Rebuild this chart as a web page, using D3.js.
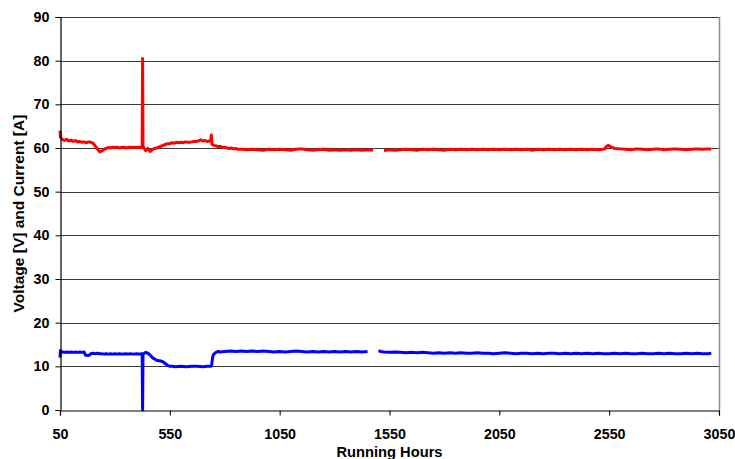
<!DOCTYPE html>
<html>
<head>
<meta charset="utf-8">
<script src="https://cdn.jsdelivr.net/npm/d3@7"></script>
<style>
  html, body { margin: 0; padding: 0; background: #fff; }
  svg { display: block; }
  text { font-family: "Liberation Sans", Arial, sans-serif; font-weight: bold; fill: #000; }
</style>
</head>
<body>
<svg id="chart" width="735" height="459"></svg>
<script>
// ---- Data ----
const xTicks = [50, 550, 1050, 1550, 2050, 2550, 3050];
const yTicks = [0, 10, 20, 30, 40, 50, 60, 70, 80, 90];
const xTitle = "Running Hours";
const yTitle = "Voltage [V] and Current [A]";

// Voltage (red)
const voltageHours = [
  50, 52, 60, 70, 80, 90, 100, 110, 120, 130, 140, 150, 160, 170, 180, 190, 200, 210, 220, 232, 245, 260, 270, 280, 290,
  300, 310, 320, 330, 340, 350, 360, 370, 380, 390, 400, 410, 420, 424, 426, 428, 432, 440, 450, 460, 470, 480, 490,
  500, 510, 520, 530, 540, 550, 560, 570, 580, 590, 600, 610, 620, 630, 640, 650, 660, 670, 680, 690, 700, 710, 720,
  730, 736, 739, 742, 750, 760, 770, 780, 790, 800, 810, 820, 830, 840, 850, 860, 880, 900,
  925, 950, 975, 1000, 1025, 1050, 1075, 1100, 1125, 1150, 1175, 1200, 1225, 1250, 1275, 1300, 1325, 1350, 1375, 1400, 1425, 1450,
  1475,
  1500, 1525, 1550, 1575, 1600, 1625, 1650, 1675, 1700, 1725, 1750, 1775, 1800, 1825, 1850, 1875, 1900, 1925, 1950, 1975,
  2000, 2025, 2050, 2075, 2100, 2125, 2150, 2175, 2200, 2225, 2250, 2275, 2300, 2325, 2350, 2375, 2400, 2425, 2450, 2475,
  2500, 2520, 2530, 2536, 2545, 2560, 2575, 2600, 2625, 2650, 2675, 2700, 2725, 2750, 2775, 2800, 2825, 2850, 2875, 2900,
  2925, 2950, 2975, 3000, 3015
];
const voltageValues = [
  64.0, 62.5, 62.0, 61.7, 62.0, 61.6, 61.8, 61.5, 61.7, 61.4, 61.5, 61.3, 61.4, 61.2, 61.4, 61.3, 61.1, 60.5, 59.8, 59.1, 59.5, 59.9, 60.1, 60.0, 60.2,
  60.1, 60.2, 60.0, 60.1, 60.2, 60.0, 60.1, 60.2, 60.1, 60.2, 60.1, 60.2, 60.1, 60.3, 80.5, 60.5, 60.0, 59.4, 59.9, 59.2, 59.6, 59.9, 60.0,
  60.2, 60.4, 60.6, 60.8, 61.0, 61.0, 61.2, 61.1, 61.3, 61.2, 61.3, 61.2, 61.4, 61.3, 61.3, 61.4, 61.5, 61.5, 61.6, 61.9, 61.6, 61.7, 61.5,
  61.6, 61.8, 63.0, 60.8, 60.6, 60.5, 60.3, 60.4, 60.1, 60.2, 60.0, 59.9, 60.0, 59.8, 59.9, 59.7, 59.7, 59.6, 59.7,
  59.6, 59.5, 59.7, 59.6, 59.7, 59.6, 59.5, 59.7, 59.8, 59.6, 59.5, 59.6, 59.7, 59.5, 59.6, 59.5, 59.6, 59.5, 59.6, 59.5, 59.6, 59.5,
  null,
  59.4, 59.6, 59.5, 59.6, 59.7, 59.6, 59.5, 59.7, 59.6, 59.7, 59.6, 59.5, 59.7, 59.6, 59.7, 59.6, 59.7, 59.6, 59.7, 59.6,
  59.7, 59.6, 59.7, 59.6, 59.7, 59.6, 59.7, 59.5, 59.7, 59.6, 59.7, 59.6, 59.7, 59.6, 59.7, 59.6, 59.7, 59.6, 59.7, 59.6,
  59.7, 59.8, 60.3, 60.6, 60.2, 59.9, 59.8, 59.7, 59.6, 59.8, 59.7, 59.6, 59.7, 59.8, 59.6, 59.7, 59.8, 59.7, 59.6, 59.7,
  59.8, 59.7, 59.8, 59.7, 59.8
];

// Current (blue)
const currentHours = [
  50, 52, 60, 70, 80, 90, 100, 110, 120, 130, 140, 150, 160, 165, 175, 185, 190, 200, 210, 220, 230, 240, 250, 260, 270, 280, 290,
  300, 310, 320, 330, 340, 350, 360, 370, 380, 390, 400, 410, 420, 424, 426, 428, 432, 440, 450, 460, 470, 480, 490,
  500, 510, 520, 530, 540, 550, 560, 575, 600, 625, 650, 675, 700, 720, 735, 740, 745, 750, 760, 770, 780, 800, 825, 850, 875, 900,
  925, 950, 975, 1000, 1025, 1050, 1075, 1100, 1125, 1150, 1175, 1200, 1225, 1250, 1275, 1300, 1325, 1350, 1375, 1400, 1425, 1450,
  1475,
  1500, 1510, 1525, 1550, 1575, 1600, 1625, 1650, 1675, 1700, 1725, 1750, 1775, 1800, 1825, 1850, 1875, 1900, 1925, 1950, 1975,
  2000, 2025, 2050, 2075, 2100, 2125, 2150, 2175, 2200, 2225, 2250, 2275, 2300, 2325, 2350, 2375, 2400, 2425, 2450, 2475,
  2500, 2525, 2550, 2575, 2600, 2625, 2650, 2675, 2700, 2725, 2750, 2775, 2800, 2825, 2850, 2875, 2900,
  2925, 2950, 2975, 3000, 3015
];
const currentValues = [
  12.0, 13.6, 13.3, 13.2, 13.3, 13.2, 13.3, 13.2, 13.3, 13.2, 13.3, 13.2, 13.3, 12.6, 12.5, 12.6, 12.9, 13.0, 12.9, 13.0, 12.9, 12.9, 12.8, 12.9, 12.8, 12.9, 12.8,
  12.9, 12.8, 12.9, 12.8, 12.8, 12.9, 12.8, 12.9, 12.8, 12.8, 12.9, 12.8, 12.9, 12.8, 0.0, 12.9, 12.9, 13.2, 13.0, 12.6, 12.0, 11.7, 11.4,
  11.3, 11.2, 11.0, 10.6, 10.2, 10.0, 10.0, 9.9, 10.0, 9.9, 10.0, 10.0, 9.9, 10.0, 10.0, 10.1, 12.2, 12.8, 13.2, 13.4, 13.3, 13.4, 13.5, 13.4, 13.5, 13.4,
  13.5, 13.4, 13.5, 13.4, 13.3, 13.4, 13.3, 13.4, 13.5, 13.4, 13.3, 13.4, 13.3, 13.4, 13.3, 13.4, 13.3, 13.4, 13.3, 13.4, 13.3, 13.4,
  null,
  13.6, 13.4, 13.3, 13.2, 13.3, 13.2, 13.1, 13.2, 13.1, 13.2, 13.1, 13.0, 13.1, 13.0, 13.1, 13.0, 13.1, 13.0, 13.0, 13.1, 13.0,
  13.0, 12.9, 13.0, 13.1, 13.0, 12.9, 13.0, 13.0, 12.9, 13.0, 12.9, 13.0, 13.0, 12.9, 13.0, 12.9, 13.0, 12.9, 13.0, 12.9,
  13.0, 12.9, 12.9, 13.0, 12.9, 13.0, 12.9, 12.9, 13.0, 12.9, 12.9, 13.0, 12.9, 13.0, 12.9, 12.9, 13.0,
  12.9, 13.0, 12.9, 12.9, 13.0
];

// ---- Layout ----
const svg = d3.select("#chart");
const plot = { left: 60, right: 719, top: 17, bottom: 410 };

const x = d3.scaleLinear().domain([50, 3050]).range([plot.left, plot.right]);
const y = d3.scaleLinear().domain([0, 90]).range([plot.bottom, plot.top]);

// Gridlines
svg.append("g")
  .selectAll("line")
  .data(yTicks.filter(d => d > 0))
  .join("line")
  .attr("x1", plot.left).attr("x2", plot.right)
  .attr("y1", d => Math.round(y(d)) + 0.5).attr("y2", d => Math.round(y(d)) + 0.5)
  .attr("stroke", "#3a3a3a").attr("stroke-width", 1);

// Right border of plot area
svg.append("line")
  .attr("x1", plot.right + 0.5).attr("x2", plot.right + 0.5)
  .attr("y1", plot.top).attr("y2", plot.bottom)
  .attr("stroke", "#8c8c8c").attr("stroke-width", 1.5);

// Lines
const lineGen = d3.line()
  .defined(d => d[1] != null)
  .x(d => x(d[0]))
  .y(d => y(d[1]));

const voltage = voltageHours.map((h, i) => [h, voltageValues[i]]);
const current = currentHours.map((h, i) => [h, currentValues[i]]);

svg.append("path")
  .datum(current)
  .attr("d", lineGen)
  .attr("fill", "none")
  .attr("stroke", "#0000FF")
  .attr("stroke-width", 3)
  .attr("stroke-linejoin", "round");

svg.append("path")
  .datum(voltage)
  .attr("d", lineGen)
  .attr("fill", "none")
  .attr("stroke", "#FF0000")
  .attr("stroke-width", 3)
  .attr("stroke-linejoin", "round");

// Axes
const yAxis = svg.append("g")
  .attr("transform", `translate(${plot.left + 0.5},0)`)
  .call(d3.axisLeft(y).tickValues(yTicks).tickSize(5).tickPadding(6).tickFormat(d3.format("d")));
const xAxis = svg.append("g")
  .attr("transform", `translate(0,${plot.bottom + 0.5})`)
  .call(d3.axisBottom(x).tickValues(xTicks).tickSize(5).tickPadding(13).tickFormat(d3.format("d")));

[yAxis, xAxis].forEach(g => {
  g.select(".domain").attr("stroke", "#000").attr("stroke-width", 1.2);
  g.selectAll(".tick line").attr("stroke", "#000");
  g.selectAll("text")
    .attr("font-family", "'Liberation Sans', Arial, sans-serif")
    .attr("font-weight", "bold")
    .attr("font-size", 14.3)
    .attr("fill", "#000");
});

// Axis titles
svg.append("text")
  .attr("x", (plot.left + plot.right) / 2)
  .attr("y", 457)
  .attr("text-anchor", "middle")
  .attr("font-size", 14.7)
  .text(xTitle);

svg.append("text")
  .attr("transform", `translate(24,${(plot.top + plot.bottom) / 2}) rotate(-90)`)
  .attr("text-anchor", "middle")
  .attr("font-size", 15.5)
  .text(yTitle);
</script>
</body>
</html>
